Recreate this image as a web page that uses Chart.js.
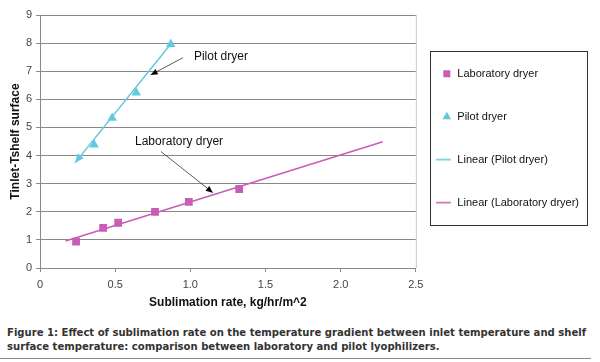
<!DOCTYPE html>
<html lang="en">
<head>
<meta charset="UTF-8">
<title>Sublimation rate vs temperature gradient</title>
<script src="https://cdn.jsdelivr.net/npm/chart.js"></script>
<style>
  body { margin: 0; background: #fff; }
  #wrap { position: absolute; left: 0; top: 0; width: 600px; height: 318px; }
  #caption {
    position: absolute; left: 7px; top: 326px; width: 592px;
    font: bold 11.2px 'DejaVu Sans Condensed', 'Liberation Sans Narrow', sans-serif;
    color: #333; line-height: 14px; white-space: nowrap;
  }
  #rule { position: absolute; left: 0; top: 358px; width: 591px; height: 1px; background: #8a8a8a; }
</style>
</head>
<body>
<div id="wrap"><canvas id="myChart"></canvas></div>
<div id="caption">Figure 1: Effect of sublimation rate on the temperature gradient between inlet temperature and shelf<br>surface temperature: comparison between laboratory and pilot lyophilizers.</div>
<div id="rule"></div>
<script>
  // values
  var labX = [0.24, 0.42, 0.52, 0.765, 0.99, 1.325];
  var labY = [0.94, 1.43, 1.61, 2.0, 2.35, 2.81];
  var pilotX = [0.36, 0.48, 0.64, 0.87];
  var pilotY = [4.38, 5.34, 6.23, 7.96];
  // trend lines (end points)
  var pilotFitX = [0.233, 0.87];
  var pilotFitY = [3.74, 7.97];
  var labFitX = [0.17, 2.28];
  var labFitY = [0.96, 4.49];

  var xTicks = [0, 0.5, 1, 1.5, 2, 2.5];
  var yTicks = [0, 1, 2, 3, 4, 5, 6, 7, 8, 9];
  var seriesNames = ['Laboratory dryer', 'Pilot dryer', 'Linear (Pilot dryer)', 'Linear (Laboratory dryer)'];

  // call-out labels, in data units
  var notes = [
    { text: 'Pilot dryer', x: 1.024, y: 7.5, fromX: 0.951, fromY: 7.48, toX: 0.736, toY: 6.87 },
    { text: 'Laboratory dryer', x: 0.632, y: 4.49, fromX: 0.805, fromY: 4.14, toX: 1.15, toY: 2.68 }
  ];

  var labColor = '#c95cb6';
  var pilotColor = '#62c8de';

  function pts(xs, ys) {
    return xs.map(function(x, i){ return { x: x, y: ys[i] }; });
  }

  // short line swatch for the legend
  function lineSwatch(color) {
    var c = document.createElement('canvas');
    c.width = 22; c.height = 3;
    var g = c.getContext('2d');
    g.strokeStyle = color; g.lineWidth = 1.5;
    g.beginPath(); g.moveTo(0, 1.5); g.lineTo(15, 1.5); g.stroke();
    return c;
  }

  function arrowHead(ctx, fx, fy, tx, ty, len, wid) {
    var a = Math.atan2(ty - fy, tx - fx);
    var bx = tx - len * Math.cos(a), by = ty - len * Math.sin(a);
    ctx.beginPath();
    ctx.moveTo(tx, ty);
    ctx.lineTo(bx + wid / 2 * Math.sin(a), by - wid / 2 * Math.cos(a));
    ctx.lineTo(bx - wid / 2 * Math.sin(a), by + wid / 2 * Math.cos(a));
    ctx.closePath();
    ctx.fill();
  }

  var decor = {
    id: 'decor',
    afterLayout: function(chart) {
      chart.legend.left -= 6;
    },
    beforeDatasetsDraw: function(chart) {
      var a = chart.chartArea, ctx = chart.ctx;
      ctx.save();
      ctx.strokeStyle = '#c8c8c8';
      ctx.lineWidth = 1;
      ctx.beginPath();
      ctx.moveTo(a.right + 0.5, a.top);
      ctx.lineTo(a.right + 0.5, a.bottom);
      ctx.stroke();
      ctx.restore();
    },
    afterDraw: function(chart) {
      var ctx = chart.ctx, xs = chart.scales.x, ys = chart.scales.y;
      var area = chart.chartArea;
      ctx.save();
      // arrow head at the lower end of the pilot trend line
      var m = chart.getDatasetMeta(2).data;
      ctx.fillStyle = pilotColor;
      arrowHead(ctx, m[1].x, m[1].y, m[0].x, m[0].y, 9, 8);

      // call-outs
      ctx.font = '12px "Liberation Sans", Arial, sans-serif';
      ctx.textBaseline = 'middle';
      notes.forEach(function(n){
        ctx.fillStyle = '#111';
        ctx.fillText(n.text, xs.getPixelForValue(n.x), ys.getPixelForValue(n.y));
        var fx = xs.getPixelForValue(n.fromX), fy = ys.getPixelForValue(n.fromY);
        var tx = xs.getPixelForValue(n.toX), ty = ys.getPixelForValue(n.toY);
        ctx.strokeStyle = '#333';
        ctx.lineWidth = 0.8;
        ctx.beginPath(); ctx.moveTo(fx, fy); ctx.lineTo(tx, ty); ctx.stroke();
        ctx.fillStyle = '#000';
        arrowHead(ctx, fx, fy, tx, ty, 7, 6);
      });

      // legend frame
      var x0 = Math.round(area.right + 14), y0 = Math.round(area.top + 36);
      ctx.strokeStyle = '#333';
      ctx.lineWidth = 1;
      ctx.strokeRect(x0 + 0.5, y0 + 0.5, 157, 174);
      ctx.restore();
    }
  };

  Chart.defaults.font.family = '"Liberation Sans", Arial, sans-serif';

  new Chart(document.getElementById('myChart'), {
    type: 'scatter',
    data: {
      datasets: [{
        label: seriesNames[0],
        data: pts(labX, labY),
        pointStyle: 'rect',
        pointRadius: 5.5,
        pointHoverRadius: 5.5,
        backgroundColor: labColor,
        borderColor: labColor,
        borderWidth: 0,
        order: 1
      }, {
        label: seriesNames[1],
        data: pts(pilotX, pilotY),
        pointStyle: 'triangle',
        pointRadius: 5.5,
        pointHoverRadius: 5.5,
        backgroundColor: pilotColor,
        borderColor: pilotColor,
        borderWidth: 0,
        order: 1
      }, {
        label: seriesNames[2],
        data: pts(pilotFitX, pilotFitY),
        showLine: true,
        pointRadius: 0,
        pointHoverRadius: 0,
        pointStyle: lineSwatch(pilotColor),
        borderColor: pilotColor,
        backgroundColor: pilotColor,
        borderWidth: 1.5,
        order: 2
      }, {
        label: seriesNames[3],
        data: pts(labFitX, labFitY),
        showLine: true,
        pointRadius: 0,
        pointHoverRadius: 0,
        pointStyle: lineSwatch(labColor),
        borderColor: labColor,
        backgroundColor: labColor,
        borderWidth: 1.5,
        order: 2
      }]
    },
    options: {
      responsive: true,
      maintainAspectRatio: false,
      animation: false,
      layout: { padding: { top: 15, left: 4, right: 5, bottom: 4 } },
      plugins: {
        tooltip: { enabled: false },
        legend: {
          position: 'right',
          align: 'start',
          maxWidth: 183,
          title: { display: true, text: ' ', font: { size: 1 }, padding: { top: 10, bottom: 10 } },
          labels: {
            usePointStyle: true,
            boxWidth: 10,
            boxHeight: 7,
            padding: 32,
            color: '#111',
            font: { size: 11 }
          }
        }
      },
      scales: {
        x: {
          type: 'linear',
          min: 0,
          max: 2.5,
          afterBuildTicks: function(s){ s.ticks = xTicks.map(function(v){ return { value: v }; }); },
          afterFit: function(s){ s.height = 46; },
          grid: { drawOnChartArea: false, drawTicks: true, tickLength: 4, color: '#888' },
          border: { color: '#888' },
          ticks: { color: '#444', font: { size: 11 }, padding: 6, maxRotation: 0 },
          title: { display: true, text: 'Sublimation rate, kg/hr/m^2', color: '#111', font: { size: 12, weight: 'bold' } }
        },
        y: {
          type: 'linear',
          min: 0,
          max: 9,
          afterBuildTicks: function(s){ s.ticks = yTicks.map(function(v){ return { value: v }; }); },
          afterFit: function(s){ s.width = 36; },
          grid: { color: '#888', tickLength: 4 },
          border: { color: '#888' },
          ticks: { color: '#444', font: { size: 11 }, padding: 4 },
          title: { display: true, text: 'Tinlet-Tshelf surface', color: '#111', font: { size: 12, weight: 'bold' } }
        }
      }
    },
    plugins: [decor]
  });
</script>
</body>
</html>
